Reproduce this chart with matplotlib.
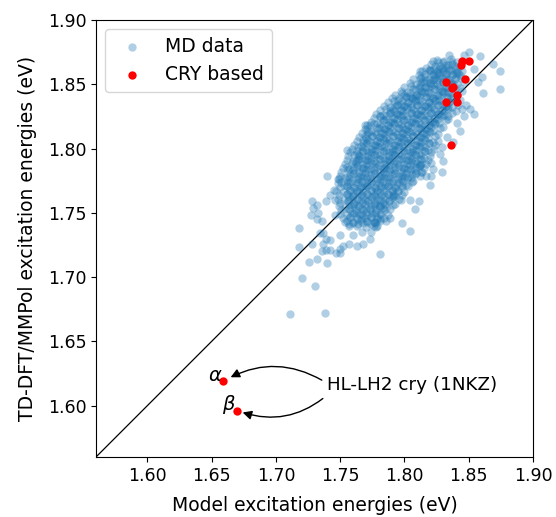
import numpy as np
import matplotlib
matplotlib.use("Agg")
import matplotlib.pyplot as plt

# ---- data (meV) ----
# MD data, dense core (one line per row of the cloud)
md_core_x = [
    1825, 1831, 1836,
    1821, 1826, 1832, 1837, 1841,
    1817, 1823, 1828, 1833, 1839, 1843,
    1814, 1819, 1825, 1830, 1835, 1840, 1845,
    1811, 1816, 1822, 1827, 1832, 1838, 1843,
    1807, 1812, 1817, 1823, 1828, 1833, 1839, 1844,
    1804, 1809, 1815, 1820, 1825, 1830, 1836, 1841, 1846,
    1800, 1805, 1811, 1816, 1821, 1827, 1832, 1837, 1843,
    1797, 1802, 1807, 1813, 1818, 1823, 1829, 1834, 1839, 1845,
    1793, 1798, 1804, 1809, 1814, 1820, 1825, 1830, 1836, 1841,
    1790, 1795, 1801, 1806, 1811, 1817, 1822, 1827, 1833, 1838, 1843,
    1787, 1792, 1797, 1803, 1808, 1813, 1819, 1824, 1829, 1835, 1840,
    1784, 1789, 1794, 1800, 1805, 1810, 1816, 1821, 1826, 1832, 1837, 1842,
    1781, 1786, 1792, 1797, 1802, 1808, 1813, 1818, 1824, 1829, 1834, 1840,
    1778, 1783, 1789, 1794, 1799, 1805, 1810, 1815, 1821, 1826, 1831, 1837,
    1776, 1781, 1786, 1792, 1797, 1802, 1808, 1813, 1818, 1824, 1829, 1834,
    1774, 1779, 1784, 1790, 1795, 1800, 1806, 1811, 1816, 1822, 1827, 1832,
    1771, 1776, 1782, 1787, 1792, 1798, 1803, 1808, 1814, 1819, 1824, 1830,
    1769, 1774, 1780, 1785, 1790, 1796, 1801, 1806, 1812, 1817, 1822, 1828,
    1767, 1772, 1778, 1783, 1788, 1794, 1799, 1804, 1810, 1815, 1820, 1826,
    1765, 1770, 1775, 1781, 1786, 1791, 1797, 1802, 1807, 1813, 1818, 1824,
    1763, 1768, 1773, 1779, 1784, 1789, 1795, 1800, 1805, 1811, 1816, 1822, 1826,
    1761, 1766, 1771, 1777, 1782, 1787, 1793, 1798, 1803, 1809, 1814, 1819, 1824,
    1759, 1764, 1770, 1775, 1780, 1786, 1791, 1796, 1802, 1807, 1812, 1818, 1823,
    1758, 1763, 1768, 1774, 1779, 1784, 1790, 1795, 1800, 1806, 1811, 1816, 1821,
    1756, 1761, 1767, 1772, 1777, 1783, 1788, 1793, 1799, 1804, 1809, 1815, 1820,
    1755, 1760, 1765, 1771, 1776, 1781, 1787, 1792, 1797, 1803, 1808, 1813, 1818,
    1754, 1759, 1764, 1770, 1775, 1780, 1786, 1791, 1796, 1802, 1807, 1812, 1817,
    1752, 1757, 1763, 1768, 1773, 1779, 1784, 1789, 1795, 1800, 1805, 1811, 1815,
    1751, 1756, 1761, 1767, 1772, 1777, 1783, 1788, 1793, 1799, 1804, 1809, 1814,
    1750, 1755, 1760, 1766, 1771, 1776, 1782, 1787, 1792, 1798, 1803, 1808, 1812,
    1749, 1754, 1759, 1765, 1770, 1775, 1781, 1786, 1791, 1797, 1802, 1807,
    1748, 1753, 1758, 1764, 1769, 1774, 1780, 1785, 1790, 1796, 1801, 1806,
    1750, 1755, 1761, 1766, 1771, 1777, 1782, 1787, 1793, 1798, 1803,
    1747, 1752, 1758, 1763, 1768, 1774, 1779, 1784, 1790, 1795, 1800,
    1749, 1755, 1760, 1766, 1771, 1777, 1782, 1787, 1793, 1798,
    1748, 1753, 1759, 1764, 1769, 1775, 1780, 1785, 1791, 1796,
    1750, 1756, 1761, 1767, 1772, 1777, 1783, 1788, 1793,
    1749, 1754, 1760, 1765, 1770, 1776, 1781, 1786, 1791,
    1751, 1757, 1762, 1768, 1773, 1778, 1784, 1789,
    1750, 1755, 1761, 1766, 1771, 1777, 1782, 1787,
    1752, 1758, 1763, 1769, 1774, 1779, 1784,
    1754, 1760, 1766, 1771, 1777, 1781,
    1757, 1764, 1770, 1776,
    # second, staggered layer in the middle of the core
    1824, 1829, 1834, 1839,
    1820, 1825, 1830, 1836, 1841,
    1816, 1822, 1827, 1832, 1837, 1842,
    1813, 1819, 1824, 1829, 1835, 1840,
    1814, 1820, 1825, 1830, 1836,
    1812, 1817, 1822, 1827, 1833, 1838,
    1808, 1813, 1818, 1824, 1829, 1834,
    1804, 1810, 1815, 1820, 1826, 1831, 1836,
    1801, 1806, 1811, 1817, 1822, 1827, 1833,
    1798, 1803, 1808, 1814, 1819, 1824, 1830, 1835,
    1794, 1800, 1805, 1810, 1816, 1821, 1826, 1832,
    1791, 1797, 1802, 1807, 1813, 1818, 1823, 1829, 1834,
    1789, 1794, 1799, 1805, 1810, 1815, 1821, 1826, 1831,
    1786, 1791, 1796, 1802, 1807, 1812, 1818, 1823, 1828,
    1783, 1789, 1794, 1799, 1805, 1810, 1815, 1821, 1826,
    1781, 1787, 1792, 1797, 1803, 1808, 1813, 1819, 1824,
    1779, 1784, 1789, 1795, 1800, 1805, 1811, 1816, 1821,
    1777, 1782, 1787, 1793, 1798, 1803, 1809, 1814, 1819,
    1775, 1780, 1785, 1791, 1796, 1801, 1807, 1812, 1817,
    1772, 1778, 1783, 1788, 1794, 1799, 1804, 1810, 1815,
    1770, 1776, 1781, 1786, 1792, 1797, 1802, 1808, 1813, 1819,
    1768, 1774, 1779, 1784, 1790, 1795, 1800, 1806, 1811, 1816,
    1767, 1772, 1777, 1783, 1788, 1793, 1799, 1804, 1809, 1815,
    1765, 1771, 1776, 1781, 1787, 1792, 1797, 1803, 1808, 1813,
    1764, 1769, 1774, 1780, 1785, 1790, 1796, 1801, 1806, 1812,
    1762, 1768, 1773, 1778, 1784, 1789, 1794, 1800, 1805, 1810,
    1761, 1767, 1772, 1777, 1783, 1788, 1793, 1799, 1804, 1809,
    1760, 1765, 1770, 1776, 1781, 1786, 1792, 1797, 1802, 1808,
    1758, 1764, 1769, 1774, 1780, 1785, 1790, 1796, 1801, 1806,
    1757, 1763, 1768, 1773, 1779, 1784, 1789, 1795, 1800, 1805,
    1756, 1762, 1767, 1772, 1778, 1783, 1788, 1794, 1799,
    1755, 1761, 1766, 1771, 1777, 1782, 1787, 1793, 1798,
    1758, 1763, 1768, 1774, 1779, 1784, 1790, 1795,
    1755, 1760, 1765, 1771, 1776, 1781, 1787, 1792,
    1757, 1763, 1768, 1774, 1779, 1784, 1790,
    1756, 1761, 1766, 1772, 1777, 1782, 1788,
    1758, 1764, 1769, 1774, 1780, 1785,
    1757, 1762, 1767, 1773, 1778, 1783,
    1759, 1765, 1770, 1775, 1781,
    1758, 1763, 1768, 1774, 1779,
    1755, 1760, 1766, 1771, 1776, 1781,
    1757, 1763, 1768, 1774, 1779,
]
md_core_y = [
    1869, 1868, 1870,
    1866, 1867, 1865, 1866, 1867,
    1863, 1862, 1864, 1863, 1862, 1864,
    1860, 1861, 1859, 1860, 1861, 1859, 1860,
    1857, 1856, 1858, 1857, 1856, 1858, 1857,
    1854, 1855, 1853, 1854, 1855, 1853, 1854, 1855,
    1851, 1850, 1852, 1851, 1850, 1852, 1851, 1850, 1852,
    1848, 1849, 1847, 1848, 1849, 1847, 1848, 1849, 1847,
    1845, 1844, 1846, 1845, 1844, 1846, 1845, 1844, 1846, 1845,
    1842, 1843, 1841, 1842, 1843, 1841, 1842, 1843, 1841, 1842,
    1839, 1838, 1840, 1839, 1838, 1840, 1839, 1838, 1840, 1839, 1838,
    1836, 1837, 1835, 1836, 1837, 1835, 1836, 1837, 1835, 1836, 1837,
    1833, 1832, 1834, 1833, 1832, 1834, 1833, 1832, 1834, 1833, 1832, 1834,
    1830, 1831, 1829, 1830, 1831, 1829, 1830, 1831, 1829, 1830, 1831, 1829,
    1827, 1826, 1828, 1827, 1826, 1828, 1827, 1826, 1828, 1827, 1826, 1828,
    1824, 1825, 1823, 1824, 1825, 1823, 1824, 1825, 1823, 1824, 1825, 1823,
    1821, 1820, 1822, 1821, 1820, 1822, 1821, 1820, 1822, 1821, 1820, 1822,
    1818, 1819, 1817, 1818, 1819, 1817, 1818, 1819, 1817, 1818, 1819, 1817,
    1815, 1814, 1816, 1815, 1814, 1816, 1815, 1814, 1816, 1815, 1814, 1816,
    1812, 1813, 1811, 1812, 1813, 1811, 1812, 1813, 1811, 1812, 1813, 1811,
    1809, 1808, 1810, 1809, 1808, 1810, 1809, 1808, 1810, 1809, 1808, 1810,
    1806, 1807, 1805, 1806, 1807, 1805, 1806, 1807, 1805, 1806, 1807, 1805, 1806,
    1803, 1802, 1804, 1803, 1802, 1804, 1803, 1802, 1804, 1803, 1802, 1804, 1803,
    1800, 1801, 1799, 1800, 1801, 1799, 1800, 1801, 1799, 1800, 1801, 1799, 1800,
    1797, 1796, 1798, 1797, 1796, 1798, 1797, 1796, 1798, 1797, 1796, 1798, 1797,
    1794, 1795, 1793, 1794, 1795, 1793, 1794, 1795, 1793, 1794, 1795, 1793, 1794,
    1791, 1790, 1792, 1791, 1790, 1792, 1791, 1790, 1792, 1791, 1790, 1792, 1791,
    1788, 1789, 1787, 1788, 1789, 1787, 1788, 1789, 1787, 1788, 1789, 1787, 1788,
    1785, 1784, 1786, 1785, 1784, 1786, 1785, 1784, 1786, 1785, 1784, 1786, 1785,
    1782, 1783, 1781, 1782, 1783, 1781, 1782, 1783, 1781, 1782, 1783, 1781, 1782,
    1779, 1778, 1780, 1779, 1778, 1780, 1779, 1778, 1780, 1779, 1778, 1780, 1779,
    1776, 1777, 1775, 1776, 1777, 1775, 1776, 1777, 1775, 1776, 1777, 1775,
    1773, 1772, 1774, 1773, 1772, 1774, 1773, 1772, 1774, 1773, 1772, 1774,
    1770, 1771, 1769, 1770, 1771, 1769, 1770, 1771, 1769, 1770, 1771,
    1767, 1766, 1768, 1767, 1766, 1768, 1767, 1766, 1768, 1767, 1766,
    1764, 1765, 1763, 1764, 1765, 1763, 1764, 1765, 1763, 1764,
    1761, 1760, 1762, 1761, 1760, 1762, 1761, 1760, 1762, 1761,
    1758, 1759, 1757, 1758, 1759, 1757, 1758, 1759, 1757,
    1755, 1754, 1756, 1755, 1754, 1756, 1755, 1754, 1756,
    1752, 1753, 1751, 1752, 1753, 1751, 1752, 1753,
    1749, 1748, 1750, 1749, 1748, 1750, 1749, 1748,
    1746, 1747, 1745, 1746, 1747, 1745, 1746,
    1743, 1742, 1744, 1743, 1742, 1744,
    1740, 1741, 1739, 1740,
    # second layer
    1864, 1863, 1865, 1864,
    1861, 1860, 1862, 1861, 1860,
    1858, 1857, 1859, 1858, 1857, 1859,
    1855, 1854, 1856, 1855, 1854, 1856,
    1852, 1851, 1853, 1852, 1851,
    1849, 1848, 1850, 1849, 1848, 1850,
    1846, 1845, 1847, 1846, 1845, 1847,
    1843, 1842, 1844, 1843, 1842, 1844, 1843,
    1840, 1839, 1841, 1840, 1839, 1841, 1840,
    1837, 1836, 1838, 1837, 1836, 1838, 1837, 1836,
    1834, 1833, 1835, 1834, 1833, 1835, 1834, 1833,
    1831, 1830, 1832, 1831, 1830, 1832, 1831, 1830, 1832,
    1828, 1827, 1829, 1828, 1827, 1829, 1828, 1827, 1829,
    1825, 1824, 1826, 1825, 1824, 1826, 1825, 1824, 1826,
    1822, 1821, 1823, 1822, 1821, 1823, 1822, 1821, 1823,
    1819, 1818, 1820, 1819, 1818, 1820, 1819, 1818, 1820,
    1816, 1815, 1817, 1816, 1815, 1817, 1816, 1815, 1817,
    1813, 1812, 1814, 1813, 1812, 1814, 1813, 1812, 1814,
    1810, 1809, 1811, 1810, 1809, 1811, 1810, 1809, 1811,
    1807, 1806, 1808, 1807, 1806, 1808, 1807, 1806, 1808,
    1804, 1803, 1805, 1804, 1803, 1805, 1804, 1803, 1805, 1804,
    1801, 1800, 1802, 1801, 1800, 1802, 1801, 1800, 1802, 1801,
    1798, 1797, 1799, 1798, 1797, 1799, 1798, 1797, 1799, 1798,
    1795, 1794, 1796, 1795, 1794, 1796, 1795, 1794, 1796, 1795,
    1792, 1791, 1793, 1792, 1791, 1793, 1792, 1791, 1793, 1792,
    1789, 1788, 1790, 1789, 1788, 1790, 1789, 1788, 1790, 1789,
    1786, 1785, 1787, 1786, 1785, 1787, 1786, 1785, 1787, 1786,
    1783, 1782, 1784, 1783, 1782, 1784, 1783, 1782, 1784, 1783,
    1780, 1779, 1781, 1780, 1779, 1781, 1780, 1779, 1781, 1780,
    1777, 1776, 1778, 1777, 1776, 1778, 1777, 1776, 1778, 1777,
    1774, 1773, 1775, 1774, 1773, 1775, 1774, 1773, 1775,
    1771, 1770, 1772, 1771, 1770, 1772, 1771, 1770, 1772,
    1768, 1767, 1769, 1768, 1767, 1769, 1768, 1767,
    1765, 1764, 1766, 1765, 1764, 1766, 1765, 1764,
    1762, 1761, 1763, 1762, 1761, 1763, 1762,
    1759, 1758, 1760, 1759, 1758, 1760, 1759,
    1756, 1755, 1757, 1756, 1755, 1757,
    1753, 1752, 1754, 1753, 1752, 1754,
    1750, 1749, 1751, 1750, 1749,
    1747, 1746, 1748, 1747, 1746,
    1744, 1743, 1745, 1744, 1743, 1745,
    1741, 1740, 1742, 1741, 1740,
]
# MD data, scattered points around the core
md_tail_x = [
    1711, 1738, 1720, 1730, 1726, 1732, 1740, 1718, 1718, 1728,
    1727, 1732, 1736, 1729, 1733, 1728, 1740, 1747, 1750, 1736,
    1737, 1739, 1742, 1734, 1737, 1763, 1768, 1757, 1752, 1773,
    1774, 1767, 1760, 1750, 1777, 1781, 1742, 1739, 1750, 1778,
    1786, 1789, 1781, 1804, 1798, 1797, 1755, 1748, 1742, 1739,
    1746, 1746, 1755, 1763, 1765, 1762, 1732, 1751, 1745, 1769,
    1771, 1768,
    1822, 1812, 1820, 1827, 1822, 1812, 1800, 1796, 1781, 1773,
    1789, 1793, 1771, 1769, 1808,
    1835, 1846, 1850, 1859, 1869, 1874, 1874, 1861, 1854, 1851,
    1848, 1860, 1857, 1854, 1830, 1837, 1832, 1846, 1841, 1843,
    1833, 1828, 1830, 1821, 1812, 1845, 1829, 1817, 1813, 1838,
    1834,
    1829, 1820, 1821, 1811, 1808, 1791, 1804, 1813, 1822,
]
md_tail_y = [
    1671, 1672, 1699, 1693, 1712, 1714, 1711, 1738, 1723, 1726,
    1748, 1745, 1744, 1754, 1750, 1759, 1779, 1719, 1719, 1720,
    1726, 1721, 1729, 1734, 1734, 1724, 1726, 1726, 1724, 1730,
    1735, 1735, 1733, 1733, 1743, 1718, 1721, 1730, 1722, 1739,
    1744, 1746, 1755, 1736, 1742, 1760, 1786, 1776, 1764, 1759,
    1760, 1748, 1799, 1798, 1794, 1790, 1756, 1774, 1768, 1818,
    1811, 1804,
    1868, 1860, 1860, 1862, 1853, 1851, 1842, 1839, 1825, 1818,
    1829, 1833, 1815, 1810, 1840,
    1873, 1873, 1875, 1872, 1866, 1860, 1846, 1843, 1827, 1831,
    1834, 1856, 1852, 1862, 1867, 1867, 1859, 1825, 1820, 1814,
    1809, 1796, 1790, 1789, 1787, 1831, 1801, 1779, 1788, 1805,
    1825,
    1782, 1772, 1779, 1759, 1753, 1764, 1760, 1782, 1784,
]

# CRY based structures (eV)
cry_x = [1.845, 1.844, 1.850, 1.847, 1.832, 1.838, 1.837, 1.841, 1.832, 1.841, 1.836]
cry_y = [1.868, 1.865, 1.868, 1.854, 1.852, 1.848, 1.847, 1.842, 1.836, 1.836, 1.803]

# HL-LH2 crystal (1NKZ), alpha and beta (eV)
nkz_labels = [r'$\alpha$', r'$\beta$']
nkz_x = [1.659, 1.670]
nkz_y = [1.619, 1.596]

assert len(md_core_x) == len(md_core_y), (len(md_core_x), len(md_core_y))
assert len(md_tail_x) == len(md_tail_y)
md_x = np.array(md_core_x + md_tail_x) / 1000.
md_y = np.array(md_core_y + md_tail_y) / 1000.

lims = (1.56, 1.90)
ticks = [1.60, 1.65, 1.70, 1.75, 1.80, 1.85, 1.90]

#%%
fig = plt.figure(figsize=(5.56, 5.17), dpi=100)
ax = fig.add_axes([96/556, 1 - 457/517, 437/556, 437/517])

ax.plot(lims, lims, 'k-', lw=0.9, zorder=1)
ax.scatter(md_x, md_y, s=36, linewidths=0, color='C0', alpha=0.35, label='MD data', zorder=2)
ax.scatter(cry_x, cry_y, s=36, linewidths=0, color='red', label='CRY based', zorder=3)
ax.scatter(nkz_x, nkz_y, s=36, linewidths=0, color='red', zorder=3)

# alpha / beta tags left of the points
ax.text(nkz_x[0] - 0.0065, nkz_y[0] + 0.0045, nkz_labels[0], fontsize=14, ha='center', va='center')
ax.text(nkz_x[1] - 0.0065, nkz_y[1] + 0.0045, nkz_labels[1], fontsize=14, ha='center', va='center')

txt_pos = (1.7397, 1.616)
ax.annotate('HL-LH2 cry (1NKZ)', xy=(nkz_x[0], nkz_y[0]), xytext=txt_pos,
            fontsize=13.2, va='center', ha='left',
            arrowprops=dict(arrowstyle='-|>', color='k', lw=1,
                            connectionstyle='arc3,rad=0.3', relpos=(0, 0.6), shrinkB=6))
ax.annotate('HL-LH2 cry (1NKZ)', xy=(nkz_x[1], nkz_y[1]), xytext=txt_pos,
            fontsize=13.2, va='center', ha='left', alpha=0,
            arrowprops=dict(arrowstyle='-|>', color='k', lw=1,
                            connectionstyle='arc3,rad=-0.3', relpos=(0.02, 0.1), shrinkB=4))

ax.set_xlim(lims)
ax.set_ylim(lims)
ax.set_xticks(ticks)
ax.set_yticks(ticks)
ax.set_xticklabels(['%.2f' % t for t in ticks])
ax.set_yticklabels(['%.2f' % t for t in ticks])
ax.tick_params(labelsize=12.5)
ax.set_xlabel('Model excitation energies (eV)', fontsize=13.5, labelpad=8)
ax.set_ylabel('TD-DFT/MMPol excitation energies (eV)', fontsize=13.5, labelpad=8)
ax.legend(loc='upper left', fontsize=13.5)

fig.savefig('out.png', dpi=100)
